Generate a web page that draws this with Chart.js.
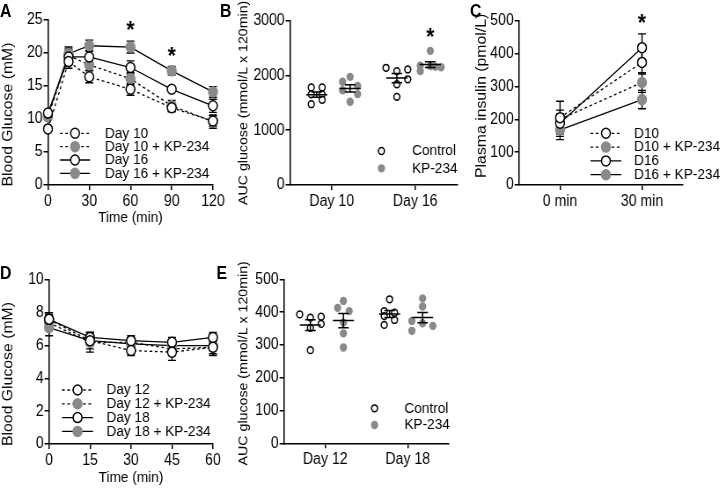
<!DOCTYPE html>
<html>
<head>
<meta charset="utf-8">
<script src="https://cdn.jsdelivr.net/npm/chart.js@4.4.1/dist/chart.umd.min.js"></script>
<style>
  html, body { margin: 0; padding: 0; background: #fff; overflow: hidden; }
  #figure {
    position: relative;
    width: 818px;
    height: 494px;
    transform: scaleX(0.88);
    transform-origin: 0 0;
    font-family: 'Liberation Sans', Arial, sans-serif;
  }
  #figure canvas { position: absolute; }
  .tag { position: absolute; font-weight: bold; font-size: 18px; line-height: 1; color: #000; }
</style>
</head>
<body>
<div id="figure">
  <canvas id="panel-a"></canvas>
  <canvas id="panel-b"></canvas>
  <canvas id="panel-c"></canvas>
  <canvas id="panel-d"></canvas>
  <canvas id="panel-e"></canvas>
  <div class="tag" style="left:0;top:2px">A</div>
  <div class="tag" style="left:250px;top:2px">B</div>
  <div class="tag" style="left:534px;top:2px">C</div>
  <div class="tag" style="left:0;top:264px">D</div>
  <div class="tag" style="left:246px;top:264px">E</div>
</div>
<script>
// ---- A: glucose tolerance, day 10 / day 16
const timeA = [0, 15, 30, 60, 90, 120];
const xTicksA = [0, 30, 60, 90, 120];
const yTicksA = [0, 5, 10, 15, 20, 25];
const labelsA = ['Day 10', 'Day 10 + KP-234', 'Day 16', 'Day 16 + KP-234'];
const day10A = [8.5, 18.7, 16.4, 14.5, 11.7, 9.7];
const day10ErrA = [0.3, 1.0, 0.9, 0.9, 0.6, 0.8];
const day10KpA = [10.3, 19.6, 18.2, 16.1, 12.0, 9.6];
const day10KpErrA = [0.4, 1.0, 0.8, 0.9, 0.8, 1.0];
const day16A = [10.9, 19.4, 19.4, 17.8, 14.5, 12.0];
const day16ErrA = [0.3, 1.0, 1.0, 1.0, 0.3, 1.0];
const day16KpA = [10.6, 19.9, 21.1, 20.9, 17.3, 14.1];
const day16KpErrA = [0.3, 1.0, 0.85, 0.9, 0.65, 0.8];
const starsA = [[60, 24.3], [90, 20.4]];

// ---- B: AUC, day 10 / day 16
const groupsB = ['Day 10', 'Day 16'];
const yTicksB = [0, 1000, 2000, 3000];
const legendB = ['Control', 'KP-234'];
const day10CtrlB = [1780, 1780, 1655, 1655, 1555, 1475];
const day10KpB = [1975, 1885, 1810, 1660, 1730, 1520];
const day16CtrlB = [2140, 2080, 2110, 1840, 1930, 1610];
const day16KpB = [2450, 2180, 2080, 2170, 2160, 2150];
const starsB = [[1.18, 2800]];

// ---- C: plasma insulin
const timeC = ['0 min', '30 min'];
const yTicksC = [0, 100, 200, 300, 400, 500];
const labelsC = ['D10', 'D10 + KP-234', 'D16', 'D16 + KP-234'];
const d10C = [205, 373];
const d10ErrC = [50, 35];
const d10KpC = [200, 312];
const d10KpErrC = [16, 30];
const d16C = [188, 418];
const d16ErrC = [40, 42];
const d16KpC = [168, 260];
const d16KpErrC = [30, 28];
const starsC = [[1, 509]];

// ---- D: glucose tolerance, day 12 / day 18
const timeD = [0, 15, 30, 45, 60];
const xTicksD = [0, 15, 30, 45, 60];
const yTicksD = [0, 2, 4, 6, 8, 10];
const labelsD = ['Day 12', 'Day 12 + KP-234', 'Day 18', 'Day 18 + KP-234'];
const day12D = [7.6, 6.3, 5.7, 5.6, 5.9];
const day12ErrD = [0.4, 0.5, 0.3, 0.5, 0.5];
const day12KpD = [7.4, 6.2, 6.2, 5.8, 5.9];
const day12KpErrD = [0.4, 0.6, 0.3, 0.4, 0.4];
const day18D = [7.6, 6.5, 6.3, 6.2, 6.5];
const day18ErrD = [0.3, 0.3, 0.3, 0.3, 0.3];
const day18KpD = [7.1, 6.3, 6.1, 6.0, 6.0];
const day18KpErrD = [0.5, 0.3, 0.3, 0.3, 0.3];

// ---- E: AUC, day 12 / day 18
const groupsE = ['Day 12', 'Day 18'];
const yTicksE = [0, 100, 200, 300, 400, 500];
const legendE = ['Control', 'KP-234'];
const day12CtrlE = [393, 383, 386, 352, 364, 284];
const day12KpE = [434, 413, 403, 368, 335, 292];
const day18CtrlE = [439, 403, 398, 388, 376, 361];
const day18KpE = [442, 417, 373, 366, 343, 358];

// ---- layout (page coords before the horizontal squeeze)
const FONT = "'Liberation Sans', Arial, sans-serif";
const GREY = '#8a8a8a';
const GROUP_X = [-0.18, 0.22, 0.78, 1.18];
const jitterB = [
  [-0.065, 0.065, -0.065, 0.065, 0.065, -0.065],
  [0, -0.09, 0.09, 0.09, -0.09, 0],
  [-0.13, 0, 0.13, 0, 0.13, 0],
  [0, -0.12, -0.12, 0, 0.06, 0.13]
];
const jitterE = [
  [-0.13, 0, 0.13, 0, 0.13, 0],
  [0, -0.07, 0.07, 0, 0, 0],
  [0, -0.065, 0.06, -0.065, 0.06, -0.065],
  [0, 0, -0.13, 0, -0.13, 0.125]
];
const GEOMETRY = {
  a: { box: [0, 0, 272, 227], area: [54.5, 20, 242, 185] },
  b: { box: [268, 0, 276, 215], area: [329.5, 20.7, 519.3, 185] },
  c: { box: [538, 0, 280, 215], area: [589.8, 20.7, 776.1, 185] },
  d: { box: [0, 260, 272, 227], area: [55.7, 280, 242, 444] },
  e: { box: [268, 259, 268, 216], area: [322.7, 279.3, 510.2, 443.3] }
};

const errorBars = {
  id: 'errorBars',
  beforeDatasetsDraw(chart) {
    const { ctx, scales: { x, y } } = chart;
    ctx.save();
    ctx.strokeStyle = '#000';
    ctx.lineWidth = 1.4;
    chart.data.datasets.forEach((ds) => {
      if (!ds.errors) return;
      ds.data.forEach((pt, i) => {
        const px = x.getPixelForValue(pt.x);
        const top = y.getPixelForValue(pt.y + ds.errors[i]);
        const bottom = y.getPixelForValue(pt.y - ds.errors[i]);
        ctx.beginPath();
        ctx.moveTo(px, top);
        ctx.lineTo(px, bottom);
        ctx.moveTo(px - 4.5, top);
        ctx.lineTo(px + 4.5, top);
        ctx.moveTo(px - 4.5, bottom);
        ctx.lineTo(px + 4.5, bottom);
        ctx.stroke();
      });
    });
    ctx.restore();
  }
};

const meanSem = {
  id: 'meanSem',
  afterDatasetsDraw(chart) {
    const { ctx, scales: { x, y } } = chart;
    ctx.save();
    ctx.strokeStyle = '#000';
    ctx.lineWidth = 1.5;
    chart.data.datasets.forEach((ds) => {
      const values = ds.data.map((p) => p.y);
      const n = values.length;
      const mean = values.reduce((s, v) => s + v, 0) / n;
      const sd = Math.sqrt(values.reduce((s, v) => s + (v - mean) ** 2, 0) / (n - 1));
      const sem = sd / Math.sqrt(n);
      const cx = x.getPixelForValue(ds.center);
      const ym = y.getPixelForValue(mean);
      const yt = y.getPixelForValue(mean + sem);
      const yb = y.getPixelForValue(mean - sem);
      ctx.beginPath();
      ctx.moveTo(cx - 12, ym);
      ctx.lineTo(cx + 12, ym);
      ctx.moveTo(cx, yt);
      ctx.lineTo(cx, yb);
      ctx.moveTo(cx - 6, yt);
      ctx.lineTo(cx + 6, yt);
      ctx.moveTo(cx - 6, yb);
      ctx.lineTo(cx + 6, yb);
      ctx.stroke();
    });
    ctx.restore();
  }
};

const stars = {
  id: 'stars',
  afterDraw(chart, args, opts) {
    if (!opts.points) return;
    const { ctx, scales: { x, y } } = chart;
    ctx.save();
    ctx.fillStyle = '#000';
    ctx.font = `bold 24px ${FONT}`;
    ctx.textAlign = 'center';
    ctx.textBaseline = 'alphabetic';
    opts.points.forEach(([sx, sy]) => {
      ctx.fillText('*', x.getPixelForValue(sx), y.getPixelForValue(sy) + 24 * 0.57);
    });
    ctx.restore();
  }
};

// y titles sit a little off the plot centre in the reference, so they are drawn here
const sideTitle = {
  id: 'sideTitle',
  afterDraw(chart, args, opts) {
    if (!opts.text) return;
    const { ctx, chartArea } = chart;
    ctx.save();
    ctx.translate(opts.x, (chartArea.top + chartArea.bottom) / 2 + opts.shift);
    ctx.rotate(-Math.PI / 2);
    ctx.font = `${opts.size}px ${FONT}`;
    ctx.fillStyle = '#000';
    ctx.textAlign = 'center';
    ctx.textBaseline = 'middle';
    ctx.fillText(opts.text, 0, 0);
    ctx.restore();
  }
};

const lineLegend = {
  id: 'lineLegend',
  afterDraw(chart, args, opts) {
    if (opts.y === undefined) return;
    const { ctx } = chart;
    ctx.save();
    ctx.font = `15.5px ${FONT}`;
    ctx.textBaseline = 'middle';
    chart.data.datasets.forEach((ds, i) => {
      const y = opts.y + i * opts.dy;
      const mid = (opts.x0 + opts.x1) / 2;
      ctx.strokeStyle = '#000';
      ctx.lineWidth = ds.borderWidth;
      ctx.setLineDash(ds.borderDash);
      ctx.beginPath();
      ctx.moveTo(opts.x0, y);
      ctx.lineTo(opts.x1, y);
      ctx.stroke();
      ctx.setLineDash([]);
      ctx.beginPath();
      ctx.arc(mid, y, ds.pointRadius, 0, Math.PI * 2);
      ctx.fillStyle = ds.pointBackgroundColor;
      ctx.fill();
      ctx.lineWidth = ds.pointBorderWidth;
      ctx.strokeStyle = ds.pointBorderColor;
      ctx.stroke();
      ctx.fillStyle = '#000';
      ctx.fillText(ds.label, opts.tx, y);
    });
    ctx.restore();
  }
};

const dotLegend = {
  id: 'dotLegend',
  afterDraw(chart, args, opts) {
    if (!opts.labels) return;
    const { ctx } = chart;
    ctx.save();
    ctx.font = `15.5px ${FONT}`;
    ctx.textBaseline = 'middle';
    opts.labels.forEach((label, i) => {
      const ds = chart.data.datasets[i];
      const y = opts.y + i * opts.dy;
      ctx.beginPath();
      ctx.arc(opts.mx, y, ds.pointRadius, 0, Math.PI * 2);
      ctx.fillStyle = ds.pointBackgroundColor;
      ctx.fill();
      ctx.lineWidth = ds.pointBorderWidth;
      ctx.strokeStyle = ds.pointBorderColor;
      ctx.stroke();
      ctx.fillStyle = '#000';
      ctx.fillText(label, opts.tx, y);
    });
    ctx.restore();
  }
};

function axisLook() {
  return {
    border: { display: true, color: '#000', width: 1.5 },
    grid: { display: true, drawOnChartArea: false, drawTicks: true, tickLength: 5, color: '#000', lineWidth: 1.5 }
  };
}

function yScale(ticks, p) {
  return {
    type: 'linear',
    min: ticks[0],
    max: ticks[ticks.length - 1],
    afterBuildTicks: (scale) => { scale.ticks = ticks.map((value) => ({ value })); },
    afterFit: (scale) => { scale.width = p.yWidth; },
    ...axisLook(),
    ticks: { color: '#000', font: { family: FONT, size: 16 }, padding: 1, autoSkip: false, callback: (v) => String(v) },
    title: { display: false }
  };
}

function xScale(ticks, labels, min, max, p, title) {
  return {
    type: 'linear',
    min,
    max,
    afterBuildTicks: (scale) => { scale.ticks = ticks.map((value) => ({ value })); },
    afterFit: (scale) => { scale.height = p.xHeight; },
    ...axisLook(),
    ticks: {
      color: '#000',
      font: { family: FONT, size: 16 },
      padding: 2,
      autoSkip: false,
      maxRotation: 0,
      callback: (v, i) => (labels ? labels[i] : String(v))
    },
    title: { display: !!title, text: title || '', color: '#000', font: { family: FONT, size: 15.5 }, padding: 0 }
  };
}

function lineDataset(label, xs, ys, errs, open, dashed) {
  return {
    label,
    data: xs.map((x, i) => ({ x, y: ys[i] })),
    errors: errs,
    borderColor: '#000',
    borderWidth: 1.3,
    borderDash: dashed ? [3, 3] : [],
    pointRadius: 5,
    pointHoverRadius: 5,
    pointBorderWidth: 1.5,
    pointBackgroundColor: open ? '#fff' : GREY,
    pointBorderColor: open ? '#000' : GREY,
    order: open ? 0 : 1,
    tension: 0,
    clip: false
  };
}

function dotDataset(label, center, values, jitter, open) {
  return {
    label,
    center,
    data: values.map((v, i) => ({ x: center + jitter[i], y: v })),
    pointRadius: 3.4,
    pointHoverRadius: 3.4,
    pointBorderWidth: 1.5,
    pointBackgroundColor: open ? '#fff' : GREY,
    pointBorderColor: open ? '#000' : GREY,
    showLine: false,
    clip: false
  };
}

function place(id, key) {
  const g = GEOMETRY[key];
  const [left, top, w, h] = g.box;
  const [aLeft, aTop, aRight, aBottom] = g.area;
  const canvas = document.getElementById(id);
  canvas.width = w;
  canvas.height = h;
  canvas.style.left = `${left}px`;
  canvas.style.top = `${top}px`;
  canvas.style.width = `${w}px`;
  canvas.style.height = `${h}px`;
  return {
    canvas,
    left,
    top,
    want: { left: aLeft - left, top: aTop - top, right: aRight - left, bottom: aBottom - top },
    yWidth: aLeft - left,
    xHeight: top + h - aBottom,
    padding: { top: aTop - top, right: left + w - aRight, left: 0, bottom: 0 }
  };
}

// nudge the axis boxes until the plot area sits where the reference has it
function settle(chart, p) {
  for (let k = 0; k < 4; k++) {
    const a = chart.chartArea;
    const dl = a.left - p.want.left;
    const dt = a.top - p.want.top;
    const dr = a.right - p.want.right;
    const db = a.bottom - p.want.bottom;
    if (Math.max(Math.abs(dl), Math.abs(dt), Math.abs(dr), Math.abs(db)) < 0.3) break;
    p.yWidth -= dl;
    p.padding.top -= dt;
    p.padding.right += dr;
    p.xHeight += db;
    chart.options.layout.padding = { ...p.padding };
    chart.update();
  }
}

function baseOptions(p, scales, pluginOpts) {
  return {
    responsive: false,
    animation: false,
    events: [],
    layout: { padding: { ...p.padding } },
    scales,
    plugins: Object.assign({ legend: { display: false }, tooltip: { enabled: false } }, pluginOpts)
  };
}

function renderLinePanel(id, key, cfg) {
  const p = place(id, key);
  const chart = new Chart(p.canvas, {
    type: 'line',
    data: { datasets: cfg.datasets },
    options: baseOptions(p, {
      x: xScale(cfg.xTicks, cfg.xLabels, cfg.xMin, cfg.xMax, p, cfg.xTitle),
      y: yScale(cfg.yTicks, p)
    }, {
      lineLegend: {
        x0: cfg.legend.x0 - p.left,
        x1: cfg.legend.x1 - p.left,
        tx: cfg.legend.tx - p.left,
        y: cfg.legend.y - p.top,
        dy: cfg.legend.dy
      },
      sideTitle: cfg.yTitle,
      stars: { points: cfg.stars }
    }),
    plugins: [errorBars, lineLegend, sideTitle, stars]
  });
  settle(chart, p);
}

function renderDotPanel(id, key, cfg) {
  const p = place(id, key);
  const chart = new Chart(p.canvas, {
    type: 'scatter',
    data: { datasets: cfg.datasets },
    options: baseOptions(p, {
      x: xScale([0, 1], cfg.groups, -0.5, 1.5, p, null),
      y: yScale(cfg.yTicks, p)
    }, {
      dotLegend: {
        labels: cfg.legend.labels,
        mx: cfg.legend.mx - p.left,
        tx: cfg.legend.tx - p.left,
        y: cfg.legend.y - p.top,
        dy: cfg.legend.dy
      },
      sideTitle: cfg.yTitle,
      stars: { points: cfg.stars }
    }),
    plugins: [meanSem, dotLegend, sideTitle, stars]
  });
  settle(chart, p);
}

renderLinePanel('panel-a', 'a', {
  datasets: [
    lineDataset(labelsA[0], timeA, day10A, day10ErrA, true, true),
    lineDataset(labelsA[1], timeA, day10KpA, day10KpErrA, false, true),
    lineDataset(labelsA[2], timeA, day16A, day16ErrA, true, false),
    lineDataset(labelsA[3], timeA, day16KpA, day16KpErrA, false, false)
  ],
  xTicks: xTicksA, xLabels: null, xMin: 0, xMax: 120, xTitle: 'Time (min)',
  yTicks: yTicksA,
  yTitle: { text: 'Blood Glucose (mM)', x: 9.5, shift: 12, size: 15.8 },
  legend: { x0: 68.2, x1: 102.3, tx: 119.3, y: 133.3, dy: 13.35 },
  stars: starsA
});

renderDotPanel('panel-b', 'b', {
  datasets: [
    dotDataset('Day 10 Control', GROUP_X[0], day10CtrlB, jitterB[0], true),
    dotDataset('Day 10 KP-234', GROUP_X[1], day10KpB, jitterB[1], false),
    dotDataset('Day 16 Control', GROUP_X[2], day16CtrlB, jitterB[2], true),
    dotDataset('Day 16 KP-234', GROUP_X[3], day16KpB, jitterB[3], false)
  ],
  groups: groupsB,
  yTicks: yTicksB,
  yTitle: { text: 'AUC glucose (mmol/L x 120min)', x: 9.5, shift: 0, size: 14.2 },
  legend: { labels: legendB, mx: 433.4, tx: 468.2, y: 151, dy: 17.3 },
  stars: starsB
});

renderLinePanel('panel-c', 'c', {
  datasets: [
    lineDataset(labelsC[0], [0, 1], d10C, d10ErrC, true, true),
    lineDataset(labelsC[1], [0, 1], d10KpC, d10KpErrC, false, true),
    lineDataset(labelsC[2], [0, 1], d16C, d16ErrC, true, false),
    lineDataset(labelsC[3], [0, 1], d16KpC, d16KpErrC, false, false)
  ],
  xTicks: [0, 1], xLabels: timeC, xMin: -0.5, xMax: 1.5, xTitle: null,
  yTicks: yTicksC,
  yTitle: { text: 'Plasma insulin (pmol/L)', x: 9.5, shift: -7, size: 15.8 },
  legend: { x0: 671, x1: 706, tx: 720.5, y: 133.3, dy: 13.8 },
  stars: starsC
});

renderLinePanel('panel-d', 'd', {
  datasets: [
    lineDataset(labelsD[0], timeD, day12D, day12ErrD, true, true),
    lineDataset(labelsD[1], timeD, day12KpD, day12KpErrD, false, true),
    lineDataset(labelsD[2], timeD, day18D, day18ErrD, true, false),
    lineDataset(labelsD[3], timeD, day18KpD, day18KpErrD, false, false)
  ],
  xTicks: xTicksD, xLabels: null, xMin: 0, xMax: 60, xTitle: 'Time (min)',
  yTicks: yTicksD,
  yTitle: { text: 'Blood Glucose (mM)', x: 9.5, shift: 12, size: 15.8 },
  legend: { x0: 70.5, x1: 105.7, tx: 121, y: 390, dy: 13.8 },
  stars: null
});

renderDotPanel('panel-e', 'e', {
  datasets: [
    dotDataset('Day 12 Control', GROUP_X[0], day12CtrlE, jitterE[0], true),
    dotDataset('Day 12 KP-234', GROUP_X[1], day12KpE, jitterE[1], false),
    dotDataset('Day 18 Control', GROUP_X[2], day18CtrlE, jitterE[2], true),
    dotDataset('Day 18 KP-234', GROUP_X[3], day18KpE, jitterE[3], false)
  ],
  groups: groupsE,
  yTicks: yTicksE,
  yTitle: { text: 'AUC glucose (mmol/L x 120min)', x: 9.5, shift: 2, size: 14.2 },
  legend: { labels: legendE, mx: 425.6, tx: 459.5, y: 408.3, dy: 16.7 },
  stars: null
});
</script>
</body>
</html>
